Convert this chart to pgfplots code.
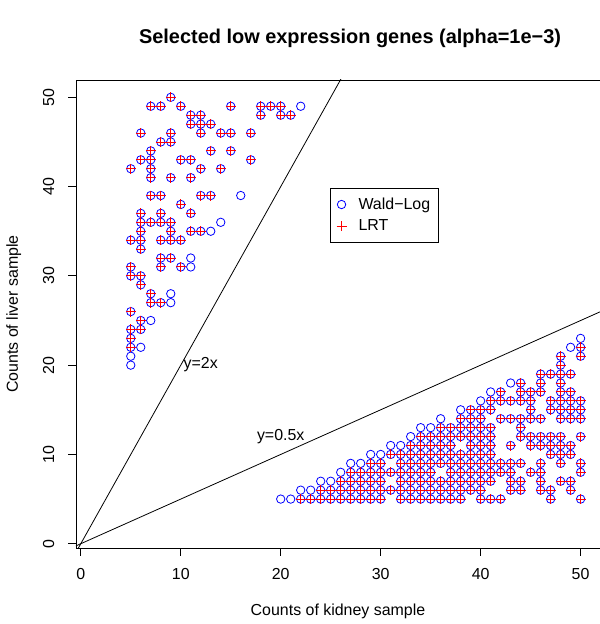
\documentclass[border=0pt]{standalone}
\usepackage{fontspec}
\setmainfont{Liberation Sans}
\usepackage{pgfplots}
\usepackage{pgfplotstable}
\pgfplotsset{compat=1.18}

% genes found by both tests (x = kidney, y = liver)
\pgfplotstableread[row sep=\\]{
x y\\
9 50\\ 7 49\\ 8 49\\ 10 49\\ 15 49\\ 18 49\\ 19 49\\ 20 49\\
11 48\\ 12 48\\ 18 48\\ 20 48\\ 21 48\\ 11 47\\ 12 47\\ 13 47\\
6 46\\ 9 46\\ 12 46\\ 14 46\\ 15 46\\ 17 46\\ 8 45\\ 9 45\\
7 44\\ 13 44\\ 15 44\\ 6 43\\ 7 43\\ 10 43\\ 11 43\\ 17 43\\
5 42\\ 7 42\\ 12 42\\ 14 42\\ 7 41\\ 9 41\\ 11 41\\
7 39\\ 8 39\\ 12 39\\ 13 39\\ 10 38\\ 6 37\\ 8 37\\ 11 37\\
6 36\\ 7 36\\ 8 36\\ 9 36\\ 6 35\\ 9 35\\ 11 35\\ 12 35\\
5 34\\ 6 34\\ 8 34\\ 9 34\\ 10 34\\ 6 33\\ 8 32\\ 9 32\\
5 31\\ 8 31\\ 10 31\\ 5 30\\ 6 30\\ 6 29\\ 7 28\\ 7 27\\ 8 27\\
5 26\\ 6 25\\ 5 24\\ 6 24\\ 5 23\\ 5 22\\
22 5\\ 23 5\\ 24 5\\ 24 6\\ 25 5\\ 25 6\\ 26 5\\ 26 6\\ 26 7\\
27 5\\ 27 6\\ 27 7\\ 27 8\\ 28 5\\ 28 6\\ 28 7\\ 28 8\\
29 5\\ 29 6\\ 29 7\\ 29 8\\ 29 9\\ 30 5\\ 30 6\\ 30 7\\ 30 8\\ 30 9\\
31 6\\ 31 8\\ 31 10\\ 32 5\\ 32 6\\ 32 7\\ 32 8\\ 32 9\\ 32 10\\
33 5\\ 33 6\\ 33 7\\ 33 8\\ 33 9\\ 33 10\\ 33 11\\
34 5\\ 34 6\\ 34 7\\ 34 8\\ 34 9\\ 34 10\\ 34 11\\ 34 12\\
35 5\\ 35 6\\ 35 7\\ 35 8\\ 35 9\\ 35 10\\ 35 11\\ 35 12\\
36 5\\ 36 6\\ 36 7\\ 36 9\\ 36 10\\ 36 11\\ 36 12\\ 36 13\\
37 5\\ 37 6\\ 37 7\\ 37 8\\ 37 9\\ 37 10\\ 37 11\\ 37 12\\ 37 13\\
38 5\\ 38 6\\ 38 7\\ 38 8\\ 38 9\\ 38 10\\ 38 12\\ 38 13\\ 38 14\\
40 5\\ 41 5\\ 42 5\\ 47 5\\ 50 5\\
39 6\\ 40 6\\ 43 6\\ 44 6\\ 46 6\\ 47 6\\ 49 6\\
39 7\\ 40 7\\ 41 7\\ 43 7\\ 44 7\\ 46 7\\ 48 7\\ 49 7\\
39 8\\ 40 8\\ 41 8\\ 42 8\\ 43 8\\ 45 8\\ 46 8\\ 50 8\\
39 9\\ 40 9\\ 41 9\\ 42 9\\ 43 9\\ 44 9\\ 46 9\\ 48 9\\ 50 9\\
39 10\\ 40 10\\ 41 10\\ 47 10\\ 48 10\\ 49 10\\
39 11\\ 40 11\\ 41 11\\ 43 11\\ 45 11\\ 46 11\\ 47 11\\ 48 11\\ 49 11\\
39 12\\ 40 12\\ 41 12\\ 44 12\\ 45 12\\ 46 12\\ 47 12\\ 48 12\\ 50 12\\
39 13\\ 40 13\\ 41 13\\ 44 13\\
39 14\\ 40 14\\ 42 14\\ 43 14\\ 44 14\\ 45 14\\ 46 14\\ 48 14\\ 49 14\\ 50 14\\
39 15\\ 40 15\\ 41 15\\ 45 15\\ 47 15\\ 48 15\\ 49 15\\ 50 15\\
41 16\\ 42 16\\ 43 16\\ 44 16\\ 45 16\\ 47 16\\ 48 16\\ 49 16\\ 50 16\\
42 17\\ 44 17\\ 45 17\\ 46 17\\ 48 17\\ 49 17\\
44 18\\ 46 18\\ 48 18\\ 46 19\\ 47 19\\ 48 19\\ 49 19\\
48 20\\ 48 21\\ 50 21\\ 50 22\\
}\both

% genes found by Wald-Log only
\pgfplotstableread[row sep=\\]{
x y\\
22 49\\ 16 39\\ 14 36\\ 13 35\\ 11 32\\ 11 31\\ 9 28\\ 9 27\\ 7 25\\ 6 22\\ 5 21\\ 5 20\\
20 5\\ 21 5\\ 22 6\\ 23 6\\ 24 7\\ 25 7\\ 26 8\\ 27 9\\ 28 9\\ 29 10\\ 30 10\\
31 11\\ 32 11\\ 33 12\\ 34 13\\ 35 13\\ 36 14\\ 38 15\\ 40 16\\ 41 17\\ 43 18\\ 49 22\\ 50 23\\
}\waldonly

\begin{document}
\begin{tikzpicture}
\begin{axis}[
  scale only axis, width=524bp, height=468bp,
  xmin=-0.48, xmax=51.94, ymin=-0.48, ymax=51.94,
  axis line style={black, line width=0.8bp},
  xtick={0,10,...,50}, ytick={0,10,...,50},
  tick pos=left, tick align=outside, major tick length=7.5bp,
  tick style={black, line width=0.8bp},
  /pgf/number format/assume math mode=true,
  ticklabel style={font=\fontsize{16}{19}\selectfont, inner sep=0pt},
  xticklabel style={anchor=north}, xticklabel shift=13bp,
  yticklabel style={rotate=90, anchor=south}, yticklabel shift=14bp,
  xlabel={Counts of kidney sample}, ylabel={Counts of liver sample},
  label style={font=\fontsize{16}{19}\selectfont, inner sep=0pt},
  xlabel style={at={(axis description cs:0.5,-0.1449)}, anchor=base},
  ylabel style={at={(axis description cs:-0.1107,0.5)}, anchor=base, rotate=0},
  title={Selected low expression genes (alpha=1e−3)},
  title style={font=\bfseries\fontsize{20}{24}\selectfont, inner sep=0pt,
    at={(axis description cs:0.523,1.0662)}, anchor=base},
  legend style={at={(axis description cs:0.485,0.769)}, anchor=north west,
    draw=black, line width=0.8bp, inner xsep=6bp, inner ysep=7.5bp,
    row sep=5bp, font=\fontsize{16}{19}\selectfont, cells={anchor=west},
    /tikz/every odd column/.append style={column sep=10bp}},
  legend image code/.code={%
    \draw[mark repeat=2, mark phase=2, #1]
      plot coordinates {(0bp,0bp) (11bp,0bp) (22bp,0bp)};},
]
  \coordinate (bl) at (rel axis cs:0,0);
  \coordinate (tr) at (rel axis cs:1,1);
  % reference lines
  \addplot[black, line width=0.8bp, forget plot] coordinates {(-2,-4) (30,60)};
  \addplot[black, line width=0.8bp, forget plot] coordinates {(-4,-2) (60,30)};
  \node[font=\fontsize{16}{19}\selectfont] at (axis cs:12,20.1) {y=2x};
  \node[font=\fontsize{16}{19}\selectfont] at (axis cs:20,12) {y=0.5x};
  % Wald-Log
  \addplot[only marks, mark=o, mark size=4.2bp, blue, mark options={line width=0.8bp}] table {\both};
  \addlegendentry{Wald−Log}
  \addplot[only marks, mark=o, mark size=4.2bp, blue, mark options={line width=0.8bp}, forget plot] table {\waldonly};
  % LRT
  \addplot[only marks, mark=+, mark size=5bp, red, mark options={line width=0.9bp}] table {\both};
  \addlegendentry{LRT}
\end{axis}
\pgfresetboundingbox
\path ([xshift=-76bp,yshift=-76bp]bl) rectangle ([yshift=80bp]tr);
\end{tikzpicture}
\end{document}
